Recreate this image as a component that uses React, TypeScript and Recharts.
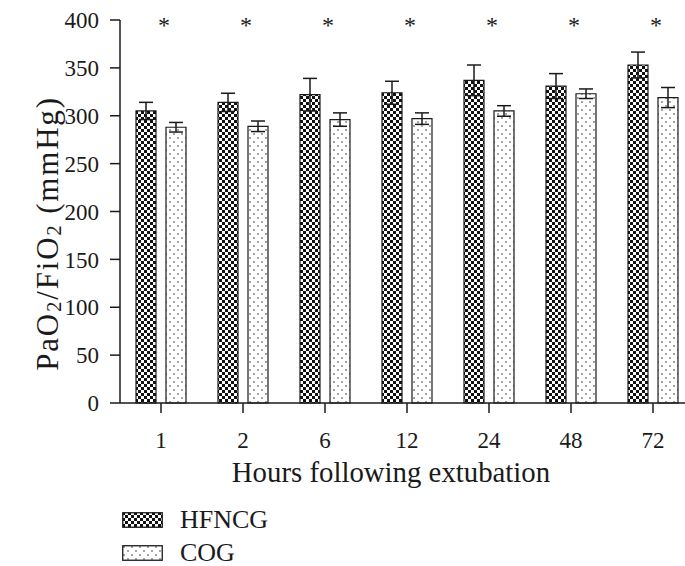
import { ComposedChart, Bar, Line, XAxis, YAxis, ErrorBar, Label } from "recharts";

const hours = ["1", "2", "6", "12", "24", "48", "72"];
const hfncg = [305, 314, 322, 324, 337, 331, 353];
const hfncgErr = [9, 9.5, 17, 12, 16, 13, 13.5];
const cog = [288, 289, 296, 297, 305, 323, 319];
const cogErr = [5, 5.5, 7, 6, 5.5, 5, 10.5];
const significant = [true, true, true, true, true, true, true];
const yTicks = [0, 50, 100, 150, 200, 250, 300, 350, 400];
const seriesNames = ["HFNCG", "COG"];

const data = hours.map((h, i) => ({
  hour: h,
  hfncg: hfncg[i],
  hfncgErr: hfncgErr[i],
  cog: cog[i],
  cogErr: cogErr[i],
  sig: significant[i] ? 398 : null,
}));

const FONT = '"Liberation Serif", "Times New Roman", serif';
const INK = "#1a1a1a";
const fills = ["url(#checker)", "url(#dots)"];

function Star(props: any) {
  const { cx, cy } = props;
  if (cx == null || cy == null) return null;
  return (
    <text x={cx + 3} y={cy + 11} textAnchor="middle" fontSize={24} fontFamily={FONT} fill={INK}>
      *
    </text>
  );
}

function YTitle(props: any) {
  const vb = props.viewBox;
  const cx = 47;
  const cy = vb.y + vb.height / 2 + 22;
  return (
    <text
      x={cx}
      y={cy}
      transform={`rotate(-90 ${cx} ${cy})`}
      textAnchor="middle"
      dominantBaseline="central"
      fontSize={31}
      letterSpacing={1.8}
      fontFamily={FONT}
      fill={INK}
    >
      PaO<tspan dy={7} fontSize={21}>2</tspan>
      <tspan dy={-7}>/FiO</tspan>
      <tspan dy={7} fontSize={21}>2</tspan>
      <tspan dy={-7}> (mmHg)</tspan>
    </text>
  );
}

function XTitle(props: any) {
  const vb = props.viewBox;
  return (
    <text
      x={vb.x + vb.width / 2 - 16}
      y={vb.y + 79}
      textAnchor="middle"
      fontSize={28.8}
      fontFamily={FONT}
      fill={INK}
    >
      Hours following extubation
    </text>
  );
}

function Patterns() {
  return (
    <svg width={0} height={0} style={{ position: "absolute" }}>
      <defs>
        <pattern id="checker" patternUnits="userSpaceOnUse" width={6} height={6}>
          <rect width={6} height={6} fill="#fff" />
          <rect x={0} y={0} width={3} height={3} fill="#111" />
          <rect x={3} y={3} width={3} height={3} fill="#111" />
        </pattern>
        <pattern id="dots" patternUnits="userSpaceOnUse" width={8} height={8}>
          <rect width={8} height={8} fill="#fff" />
          <circle cx={2} cy={2} r={0.8} fill="#333" />
          <circle cx={6} cy={6} r={0.8} fill="#333" />
        </pattern>
      </defs>
    </svg>
  );
}

export default function App() {
  return (
    <div
      style={{
        position: "absolute",
        left: 0,
        top: 0,
        width: 685,
        height: 566,
        overflow: "hidden",
        background: "#fff",
      }}
    >
      <Patterns />
      <ComposedChart
        width={700}
        height={566}
        data={data}
        margin={{ top: 20, right: 6, bottom: 83, left: 0 }}
        barSize={20}
        barGap={10}
      >
        <XAxis
          dataKey="hour"
          height={80}
          tickSize={10}
          tickMargin={19}
          axisLine={{ stroke: INK, strokeWidth: 1.5 }}
          tickLine={{ stroke: INK, strokeWidth: 1.5 }}
          tick={{ fontSize: 23, fontFamily: FONT, fill: INK }}
        >
          <Label content={<XTitle />} />
        </XAxis>
        <YAxis
          width={120}
          domain={[0, 400]}
          ticks={yTicks}
          interval={0}
          tickSize={10}
          tickMargin={11}
          axisLine={{ stroke: INK, strokeWidth: 1.5 }}
          tickLine={{ stroke: INK, strokeWidth: 1.5 }}
          tick={{ fontSize: 23, fontFamily: FONT, fill: INK }}
        >
          <Label content={<YTitle />} />
        </YAxis>
        <Bar dataKey="hfncg" name={seriesNames[0]} fill={fills[0]} stroke={INK} strokeWidth={1.2} isAnimationActive={false}>
          <ErrorBar dataKey="hfncgErr" width={7} stroke={INK} strokeWidth={1.5} direction="y" />
        </Bar>
        <Bar dataKey="cog" name={seriesNames[1]} fill={fills[1]} stroke={INK} strokeWidth={1.2} isAnimationActive={false}>
          <ErrorBar dataKey="cogErr" width={7} stroke={INK} strokeWidth={1.5} direction="y" />
        </Bar>
        <Line
          dataKey="sig"
          stroke="none"
          dot={<Star />}
          activeDot={false}
          legendType="none"
          isAnimationActive={false}
        />
      </ComposedChart>
      <div style={{ position: "absolute", left: 122, top: 512, fontFamily: FONT, color: INK }}>
        {seriesNames.map((name, i) => (
          <div key={name} style={{ display: "flex", alignItems: "center", height: 15, marginBottom: 18 }}>
            <svg width={41} height={16}>
              <rect x={0.75} y={0.75} width={39.5} height={14.5} fill={fills[i]} stroke={INK} strokeWidth={1.3} />
            </svg>
            <span style={{ marginLeft: 17, fontSize: 26, lineHeight: "15px" }}>{name}</span>
          </div>
        ))}
      </div>
    </div>
  );
}
